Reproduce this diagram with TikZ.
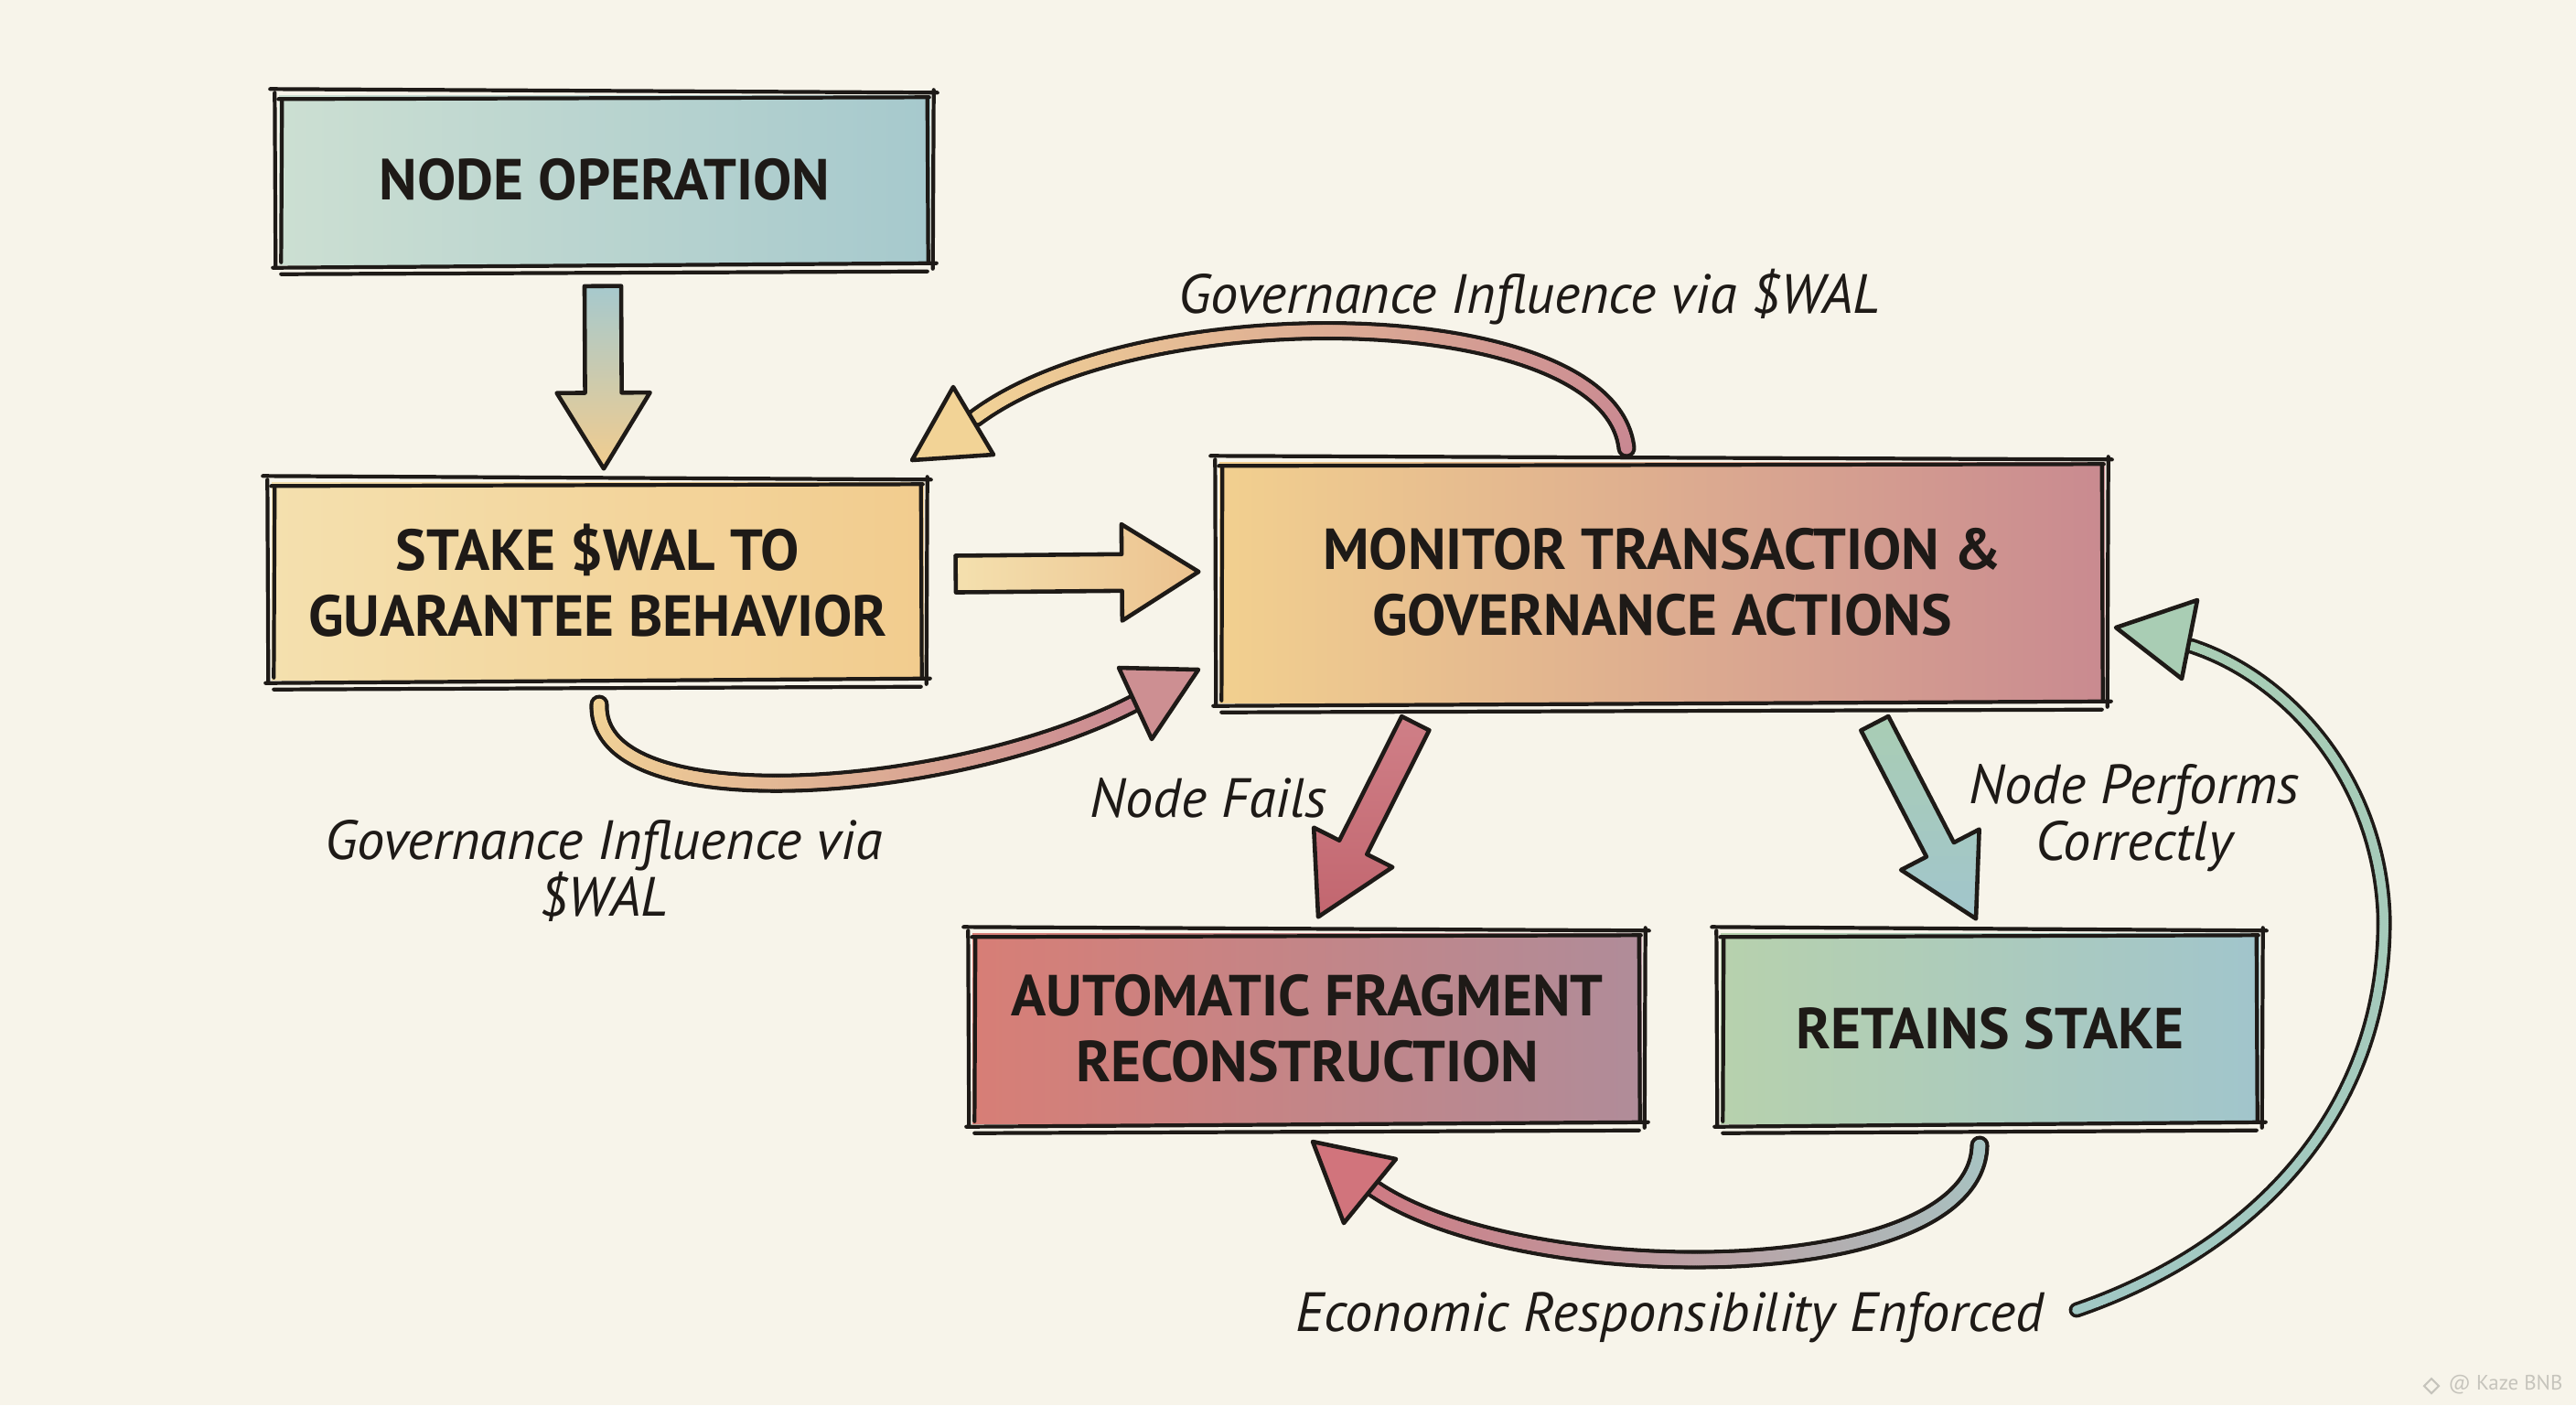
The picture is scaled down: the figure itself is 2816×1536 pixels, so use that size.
\documentclass[tikz,border=0pt]{standalone}
\usepackage{fontspec}
\setmainfont{PT Sans}
\usetikzlibrary{calc,decorations.markings}
\definecolor{bg}{HTML}{F7F4EA}
\definecolor{ink}{HTML}{1E1A17}
\definecolor{opA}{HTML}{CCDFD2}
\definecolor{opB}{HTML}{A6C9CD}
\definecolor{stA}{HTML}{F4E0AE}
\definecolor{stB}{HTML}{F2CC8E}
\definecolor{moA}{HTML}{F2D08F}
\definecolor{moB}{HTML}{C98A90}
\definecolor{auA}{HTML}{D77E76}
\definecolor{auB}{HTML}{B08C99}
\definecolor{reA}{HTML}{B7D1AD}
\definecolor{reB}{HTML}{A1C5CC}
\definecolor{pinkA}{HTML}{C98892}
\definecolor{yelA}{HTML}{F2D396}
\definecolor{tealG}{HTML}{A7C4C3}
\definecolor{mintA}{HTML}{A1C8C4}
\definecolor{mintB}{HTML}{A9CDB4}
\definecolor{redA}{HTML}{CF7F87}
\definecolor{redB}{HTML}{C2666F}
\definecolor{wm}{HTML}{C6C4BC}
\tikzset{
  sk/.style={draw=ink, line width=1.2pt, line cap=round},
  boxnode/.style={inner sep=0pt, align=center, text=ink, font=\fontsize{18}{20.5}\selectfont\bfseries},
  lbl/.style={inner sep=0pt, align=center, text=ink, font=\fontsize{17.2}{17.8}\selectfont\itshape},
  headtip/.style={draw=ink, line width=1.3pt, line join=round},
  blk/.style={draw=ink, line width=1.3pt, line join=round},
  blk2/.style={draw=ink, line width=0.7pt, line join=round},
}
\newcommand\skframe[1]{%
  \draw[sk] ($(#1.north west)+(-9,-6)$) -- ($(#1.north east)+(7,-2)$);
  \draw[sk] ($(#1.north west)+(0,5)$) -- ($(#1.north east)+(-2,3)$);
  \draw[sk] ($(#1.south west)+(-6,3)$) -- ($(#1.south east)+(6,-2)$);
  \draw[sk] ($(#1.south west)+(3,10)$) -- ($(#1.south east)+(-4,7)$);
  \draw[sk] ($(#1.north west)+(-4,-2)$) -- ($(#1.south west)+(-3,3)$);
  \draw[sk] ($(#1.north west)+(4,7)$) -- ($(#1.south west)+(3,-3)$);
  \draw[sk] ($(#1.north east)+(3,-5)$) -- ($(#1.south east)+(2,4)$);
  \draw[sk] ($(#1.north east)+(-4,3)$) -- ($(#1.south east)+(-3,-3)$);
}
% block arrow: #1 id, #2 start, #3 tip, #4 shaft half width, #5 head half width, #6 head length, #7 style
\newcommand\blockarrow[7]{%
  \coordinate (#1b) at ($(#3)!#6!(#2)$);
  \path[blk,#7] ($(#2)!#4!90:(#3)$) -- ($(#1b)!#4!90:(#3)$) -- ($(#1b)!#5!90:(#3)$) -- (#3)
     -- ($(#1b)!#5!-90:(#3)$) -- ($(#1b)!#4!-90:(#3)$) -- ($(#2)!#4!-90:(#3)$) -- cycle;
  \path[blk2, shift={(4,-3)}] ($(#2)!#4!90:(#3)$) -- ($(#1b)!#4!90:(#3)$) -- ($(#1b)!#5!90:(#3)$) -- (#3)
     -- ($(#1b)!#5!-90:(#3)$) -- ($(#1b)!#4!-90:(#3)$) -- ($(#2)!#4!-90:(#3)$);
}
% tube with gradient: #1 outer width, #2 inner radius, #3 start colour, #4 end colour, #5 path
\newcommand\tube[5]{%
  \draw[line width=#1, draw=ink, line cap=round] #5;
  \path[decorate, decoration={markings, mark=between positions 0 and 1 step 0.5pt with {%
    \pgfmathsetmacro\tubefr{\pgfkeysvalueof{/pgf/decoration/mark info/distance from start}/\pgfdecoratedpathlength}%
    \pgfmathtruncatemacro\tubepc{min(100,max(0,100*\tubefr))}%
    \fill[#4!\tubepc!#3] (0,0) circle (#2);}}] #5;
}
\begin{document}
\begin{tikzpicture}[x=0.1mm,y=-0.1mm]
\path[use as bounding box, fill=bg] (0,0) rectangle (2816,1536);

% boxes
\node[boxnode, minimum width=71.2mm, minimum height=18.5mm, left color=opA, right color=opB] (op) at (661,196.5) {NODE OPERATION};
\node[boxnode, minimum width=71.3mm, minimum height=21.6mm, left color=stA, right color=stB] (stake) at (653.5,635) {STAKE \$WAL TO\\GUARANTEE BEHAVIOR};
\node[boxnode, minimum width=96.8mm, minimum height=26.3mm, left color=moA, right color=moB] (mon) at (1817,636.5) {MONITOR TRANSACTION \&\\GOVERNANCE ACTIONS};
\node[boxnode, minimum width=73.2mm, minimum height=20.8mm, left color=auA, right color=auB] (auto) at (1429,1124) {AUTOMATIC FRAGMENT\\RECONSTRUCTION};
\node[boxnode, minimum width=58.9mm, minimum height=20.8mm, left color=reA, right color=reB] (ret) at (2175.5,1124) {RETAINS STAKE};
\skframe{op}\skframe{stake}\skframe{mon}\skframe{auto}\skframe{ret}

% straight block arrows
\coordinate (d1s) at ($(op.south)+(-2,23)$);
\coordinate (d1t) at ($(stake.north)+(6.5,-14)$);
\blockarrow{d1}{d1s}{d1t}{5.7pt}{14.5pt}{23.6pt}{top color=opB, bottom color=stB}
\coordinate (r1s) at ($(stake.east)+(34,-7.5)$);
\coordinate (r1t) at ($(mon.west)+(-22,-11.5)$);
\blockarrow{r1}{r1s}{r1t}{5.7pt}{15pt}{23.9pt}{left color=stA, right color=stB!85!pinkA}
\coordinate (f1s) at ($(mon.south west)+(215,22)$);
\coordinate (f1t) at ($(auto.north)+(12,-17)$);
\blockarrow{f1}{f1s}{f1t}{4.8pt}{13.7pt}{24.2pt}{top color=redA, bottom color=redB}
\coordinate (p1s) at ($(mon.south west)+(717,22)$);
\coordinate (p1t) at ($(ret.north)+(-15.5,-15)$);
\blockarrow{p1}{p1s}{p1t}{4.8pt}{13.7pt}{24.2pt}{top color=mintB, bottom color=reB}

% curved tubes
\coordinate (g1s) at (1778,490);
\coordinate (g1e) at (1066,457);
\tube{6pt}{1.8pt}{pinkA}{yelA}{(g1s) .. controls (1760,330) and (1250,320) .. (g1e)}
\path[headtip, fill=yelA] (997,503) -- (1042,423) -- (1086,497) -- cycle;

\coordinate (g2s) at (655,770);
\coordinate (g2e) at (1245,766);
\tube{6pt}{1.8pt}{yelA}{pinkA}{(g2s) .. controls (650,900) and (1050,870) .. (g2e)}
\path[headtip, fill=pinkA!90!yelA] (1310,732) -- (1223,730) -- (1259,808) -- cycle;

\coordinate (e1s) at (2164,1252);
\coordinate (e1e) at (1500,1298);
\tube{6pt}{1.8pt}{tealG}{pinkA!90!red}{(e1s) .. controls (2160,1410) and (1660,1410) .. (e1e)}
\path[headtip, fill=pinkA!85!red] (1435,1248) -- (1526,1267) -- (1469,1337) -- cycle;

\coordinate (e2s) at (2270,1432);
\coordinate (e2m) at (2606,1000);
\coordinate (e2e) at (2395,706);
\tube{4.8pt}{1.4pt}{mintA}{mintB}{(e2s) .. controls (2480,1360) and (2610,1200) .. (e2m) .. controls (2600,850) and (2500,740) .. (e2e)}
\path[headtip, fill=mintB] (2313,686) -- (2402,656) -- (2385,742) -- cycle;

% labels
\node[lbl, anchor=base] (lg1) at (1672,342) {Governance Influence via \$WAL};
\node[lbl] (lg2) at (660,952) {Governance Influence via\\\$WAL};
\node[lbl, anchor=base] (lnf) at (1321,893) {Node Fails};
\node[lbl] (lnp) at (2333,894) {Node Performs\\Correctly};
\node[lbl, anchor=base] (ler) at (1825,1455) {Economic Responsibility Enforced};

% watermark
\node[font=\fontsize{6.5}{7}\selectfont, text=wm, anchor=base east, inner sep=0pt] (wmk) at (2802,1519) {@ Kaze BNB};
\draw[wm, line width=0.6pt] ($(wmk.west)+(-18,-6)$) -- ++(8,8) -- ++(-8,8) -- ++(-8,-8) -- cycle;
\end{tikzpicture}
\end{document}
